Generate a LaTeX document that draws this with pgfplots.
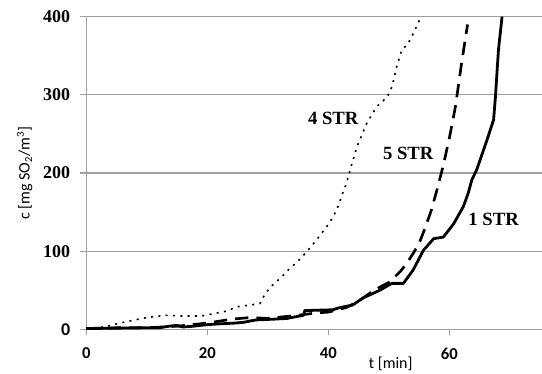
\documentclass[border=0pt]{standalone}
\usepackage{pgfplots}
\pgfplotsset{compat=1.18}
\usepackage{fontspec}
\setmainfont{Liberation Serif}
\newfontfamily\calfont{Carlito}
\definecolor{gridgray}{RGB}{160,160,160}
\begin{document}
\begin{tikzpicture}
\useasboundingbox (-64.7pt,-33.5pt) rectangle ++(406.5pt,280.5pt);
\begin{axis}[
  at={(0,0)}, anchor=south west,
  scale only axis, width=341.8pt, height=234.5pt,
  xmin=0, xmax=75.3, ymin=0, ymax=400,
  axis x line=bottom, axis y line=left,
  axis line style={-, draw=gridgray, line width=0.8pt},
  tick style={draw=gridgray, line width=0.8pt},
  tick align=outside, major tick length=4.5pt,
  ymajorgrids, grid style={gridgray, line width=0.8pt},
  xtick={0,20,40,60}, xticklabels={0,20,40,60},
  ytick={0,100,200,300,400},
  yticklabels={{\calfont\bfseries 0},{\bfseries 100},{\bfseries 200},{\bfseries 300},{\bfseries 400}},
  xticklabel style={font=\calfont\bfseries\fontsize{12.5}{14}\selectfont, yshift=-6pt},
  yticklabel style={font=\fontsize{13.5}{15}\selectfont, xshift=-4pt},
  ylabel={c [mg SO\textsubscript{2}/m\textsuperscript{3}]},
  ylabel style={font=\calfont\fontsize{12}{14}\selectfont, at={(axis description cs:-0.135,0.5)}, anchor=center},
  xlabel={t [min]},
  xlabel style={font=\calfont\fontsize{12}{14}\selectfont, at={(axis description cs:0.668,0)}, anchor=north, yshift=-17.5pt},
  clip=false,
]
% 1 STR solid
\addplot[black, line width=2.1pt, line join=round] coordinates {
(0,1)(5,1.5)(10,2)(12,2)(13.7,4)(14.9,5)(16,3)(17.7,4)(20,6)(22,7)(24.6,8)(26,9)(28,12)(31,13)(33.2,14)(35.9,18)(36.1,24)(40.7,25)(42,28)(44,31)(45.7,40)(48.5,50)(50.5,58.8)(52.4,58.8)(54,75.8)(55.7,101)(57.4,116)(59,118)(60.7,135)(62.3,157)(63.1,174)(63.7,191)(64.5,204)(66.2,242)(67.3,268)(67.6,297)(68.1,357)(68.7,400)
};
% 5 STR dashed
\addplot[black, line width=2pt, dash pattern=on 10pt off 6pt] coordinates {
(0,1)(5,2)(10,2)(15,4)(20,8)(24,13)(27,15)(30,14)(35,18)(38,21)(40,22)(43,28)(45,36)(47,47)(48.5,54)(50,60)(51,67)(52,75)(53,85)(54,97)(55,110)(56,130)(57,152)(58,180)(59,210)(60,245)(61,285)(62,340)(63,390)
};
% 4 STR dotted
\addplot[black, line width=1.2pt, dash pattern=on 1.5pt off 4pt] coordinates {
(0,1)(3,3)(5,7)(8,12)(10,15)(13,18)(16,17)(19,17)(21,20)(23,23)(25,29)(27,31)(28.7,33)(29.3,42)(30.4,54)(32,65)(33.4,76)(34.8,86)(36.4,99)(37.8,112)(39.7,131)(40.8,144)(41.7,159)(42.2,171)(43,187)(43.6,204)(44.7,233)(46.3,263)(48,285)(49.7,297)(50.5,310)(51.3,336)(52.1,357)(53.2,366)(54,378)(54.9,393)(55.3,400)
};
\node[font=\bfseries\fontsize{14}{16}\selectfont] at (axis cs:40.8,270) {4 STR};
\node[font=\bfseries\fontsize{14}{16}\selectfont] at (axis cs:53.2,225) {5 STR};
\node[font=\bfseries\fontsize{14}{16}\selectfont] at (axis cs:67.3,140) {1 STR};
\end{axis}
\end{tikzpicture}
\end{document}
